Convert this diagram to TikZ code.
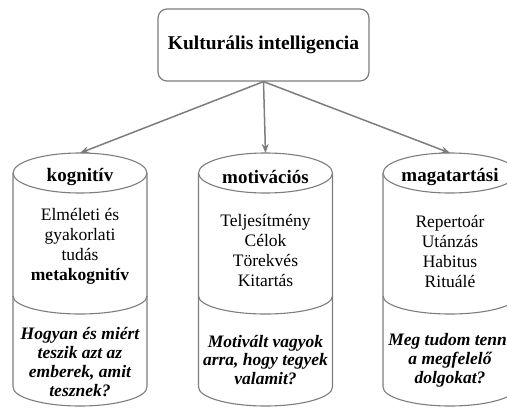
\documentclass[tikz,border=0pt]{standalone}
\usepackage{fontspec}
\setmainfont{Liberation Serif}
\usetikzlibrary{arrows.meta}
\definecolor{linegray}{RGB}{125,125,125}
\begin{document}
\begin{tikzpicture}[x=1pt,y=-1pt,
  cylline/.style={draw=linegray, line width=1.1pt},
  arrowline/.style={draw=linegray, line width=1.5pt, -{Stealth[length=9pt,width=7pt]}},
  topbox/.style={draw=linegray, line width=1.2pt, rounded corners=9pt, minimum width=211pt, minimum height=72pt, inner sep=0pt, font=\fontsize{19.5}{22}\selectfont\bfseries},
  cyltitle/.style={inner sep=0pt, font=\fontsize{19}{21}\selectfont\bfseries},
  bodytext/.style={inner sep=0pt, align=center, font=\fontsize{17.5}{20}\selectfont},
  questtext/.style={inner sep=0pt, align=center, font=\fontsize{17.5}{18.8}\selectfont\bfseries\itshape}
]
\useasboundingbox (0,0) rectangle (507,408);
\clip (0,0) rectangle (507,408);

% cylinders
\foreach \cx in {80,265.5,450} {
  \draw[cylline] (\cx-67,173) -- (\cx-67,387) arc[start angle=180, end angle=0, x radius=67, y radius=19] -- (\cx+67,173);
  \draw[cylline, fill=white] (\cx,173) ellipse [x radius=67, y radius=20];
  \draw[cylline] (\cx-67,296) arc[start angle=180, end angle=0, x radius=67, y radius=18];
}

\coordinate (kogtop) at (80,153);
\coordinate (mottop) at (265.5,153);
\coordinate (magtop) at (450,153);

\node[topbox] (ki) at (263.5,45) {Kulturális intelligencia};

\draw[arrowline] (ki.south) -- (kogtop);
\draw[arrowline] (ki.south) -- (mottop);
\draw[arrowline] (ki.south) -- (magtop);

\node[cyltitle] (kog) at (80,177) {kognitív};
\node[cyltitle] (mot) at (265.5,177) {motivációs};
\node[cyltitle] (mag) at (450,177) {magatartási};

\node[bodytext] (kogbody) at (80,246) {Elméleti és\\gyakorlati\\tudás\\\textbf{metakognitív}};
\node[bodytext] (motbody) at (265.5,250) {Teljesítmény\\Célok\\Törekvés\\Kitartás};
\node[bodytext] (magbody) at (450,251) {Repertoár\\Utánzás\\Habitus\\Rituálé};

\node[questtext] (kogq) at (80,362) {Hogyan és miért\\teszik azt az\\emberek, amit\\tesznek?};
\node[questtext] (motq) at (265.5,360) {Motivált vagyok\\arra, hogy tegyek\\valamit?};
\node[questtext] (magq) at (450,360) {Meg tudom tenni\\a megfelelő\\dolgokat?};
\end{tikzpicture}
\end{document}
